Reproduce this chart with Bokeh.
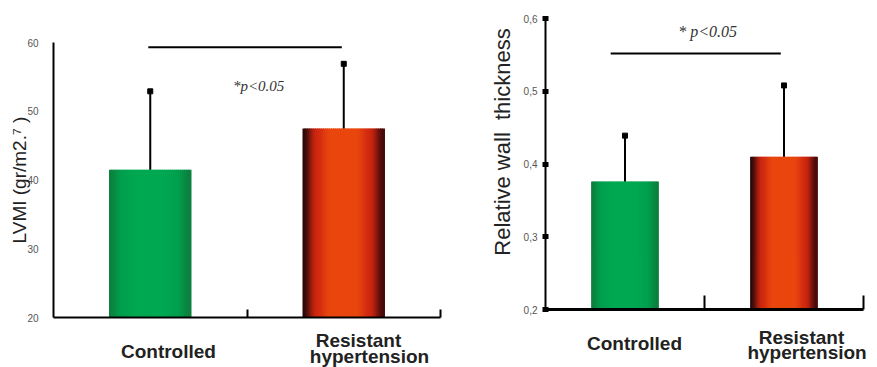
import numpy as np
from bokeh.plotting import figure
from bokeh.models import FixedTicker, Range1d, LinearAxis
from bokeh.core.properties import value
from bokeh.embed import file_html
from bokeh.resources import INLINE

# ---- data ----
categories = ["Controlled", "Resistant hypertension"]
lvmi_mean = [41.5, 47.5]
lvmi_upper = [52.9, 56.9]
lvmi_ticks = [20, 30, 40, 50, 60]
lvmi_sig = 59.3
rwt_mean = [0.376, 0.410]
rwt_upper = [0.439, 0.508]
rwt_ticks = [0.2, 0.3, 0.4, 0.5, 0.6]
rwt_tick_labels = ["0,2", "0,3", "0,4", "0,5", "0,6"]
rwt_sig = 0.552
p_label_left = "*p<0.05"
p_label_right = "* p<0.05"
lvmi_title = "LVMI (gr/m2.\u2077 )"
rwt_title = "Relative\u00a0wall\u00a0\u00a0thickness"

centers = [0.5, 1.5]
BAR_W = 0.42
NSTRIP = 40

W, H = 877, 367

GREEN = dict(center=(0, 168, 82), mid=(0, 160, 78), edge_l=(12, 128, 62), edge_r=(12, 128, 62))
RED = dict(center=(233, 70, 14), mid=(205, 38, 16), edge_l=(40, 8, 8), edge_r=(70, 10, 10))
pals = [GREEN, RED]


def rng(v0, px0, v1, px1, total):
    """Range whose values v0, v1 land at pixel px0, px1 of a frame of size total."""
    s = (px1 - px0) / (v1 - v0)
    start = v0 - px0 / s
    return Range1d(start, start + total / s)


def smooth(a, b, x):
    t = np.clip((x - a) / (b - a), 0, 1)
    return t * t * (3 - 2 * t)


def lerp(c1, c2, t):
    return tuple(c1[i] + (c2[i] - c1[i]) * t for i in range(3))


def strip_colors(pal):
    cols = []
    for k in range(NSTRIP):
        u = 2 * (k + 0.5) / NSTRIP - 1
        a = abs(u)
        c = lerp(pal["center"], pal["mid"], smooth(0.3, 0.7, a))
        c = lerp(c, pal["edge_l"] if u < 0 else pal["edge_r"], smooth(0.65, 1.0, a))
        cols.append("#%02x%02x%02x" % tuple(int(round(v)) for v in c))
    return cols


p = figure(width=W, height=H, output_backend="svg", toolbar_location=None, title=None,
           x_range=Range1d(0, W), y_range=Range1d(0, H),
           x_axis_location=None, y_axis_location=None,
           min_border=0, min_border_left=0, min_border_right=0,
           min_border_top=0, min_border_bottom=0)
p.grid.visible = False
p.outline_line_color = None

# panel coordinate systems (pixels measured from left / bottom of the frame)
p.extra_x_ranges = {"lx": rng(0, 53, 2, 440, W), "rx": rng(0, 545, 2, 863, W)}
p.extra_y_ranges = {"ly": rng(20, 50, 60, 325, H), "ry": rng(0.2, 58, 0.6, 349, H)}


def draw_bar(cx, top, bottom, pal, xr, yr):
    cols = strip_colors(pal)
    xs = [cx - BAR_W / 2 + (k + 0.5) * BAR_W / NSTRIP for k in range(NSTRIP)]
    p.vbar(x=xs, width=BAR_W / NSTRIP * 1.6, bottom=bottom, top=[top] * NSTRIP,
           fill_color=cols, line_color=None, x_range_name=xr, y_range_name=yr)


def err(cx, lo, hi, xr, yr):
    p.segment(x0=[cx], y0=[lo], x1=[cx], y1=[hi], line_color="black", line_width=2,
              x_range_name=xr, y_range_name=yr)
    p.scatter(x=[cx], y=[hi], marker="square", size=5, fill_color="black", line_color="black",
              x_range_name=xr, y_range_name=yr)


def cat_text(x, y, text, xr, yr):
    p.text(x=[x], y=[y], text=[text], text_font=value("Liberation Sans"), text_font_style="bold",
           text_font_size="19px", text_color="#222222", text_align="center",
           text_baseline="middle", x_range_name=xr, y_range_name=yr)


def x_axis(xr, yr, loc, tick_len, width):
    ax = LinearAxis(x_range_name=xr, y_range_name=yr, fixed_location=loc, bounds=(0, 2))
    ax.ticker = FixedTicker(ticks=[], minor_ticks=[1, 2])
    ax.major_label_text_font_size = "0px"
    ax.major_tick_line_color = None
    ax.minor_tick_in = tick_len
    ax.minor_tick_out = 0
    ax.minor_tick_line_width = 2
    ax.minor_tick_line_color = "black"
    ax.axis_line_width = width
    p.add_layout(ax, "below")


def y_axis(xr, yr, bounds, ticks, standoff):
    ax = LinearAxis(x_range_name=xr, y_range_name=yr, fixed_location=0, bounds=bounds)
    ax.ticker = FixedTicker(ticks=ticks)
    ax.minor_tick_line_color = None
    ax.axis_line_width = 2
    ax.major_label_text_font = "Liberation Sans"
    ax.major_label_text_font_size = "10px"
    ax.major_label_text_color = "#555555"
    ax.major_label_standoff = standoff
    p.add_layout(ax, "left")
    return ax


def title_axis(xr, yr, bounds, label, size, standoff):
    # invisible axis that only carries the axis title, centred on `bounds`
    ax = LinearAxis(x_range_name=xr, y_range_name=yr, fixed_location=0, bounds=bounds)
    ax.ticker = FixedTicker(ticks=[])
    ax.axis_line_color = None
    ax.major_tick_line_color = None
    ax.minor_tick_line_color = None
    ax.major_tick_out = 0
    ax.major_tick_in = 0
    ax.minor_tick_out = 0
    ax.minor_tick_in = 0
    ax.major_label_text_font_size = "0px"
    ax.major_label_standoff = 0
    ax.axis_label = label
    ax.axis_label_standoff = standoff
    ax.axis_label_text_font = "Liberation Sans"
    ax.axis_label_text_font_style = "normal"
    ax.axis_label_text_font_size = size
    ax.axis_label_text_color = "#222222"
    p.add_layout(ax, "left")


words = categories[1].split(" ")

# ---- left panel: LVMI ----
for i in range(2):
    draw_bar(centers[i], lvmi_mean[i], 20, pals[i], "lx", "ly")
    err(centers[i], lvmi_mean[i], lvmi_upper[i], "lx", "ly")
p.segment(x0=[0.49], y0=[lvmi_sig], x1=[1.49], y1=[lvmi_sig], line_color="black", line_width=2,
          x_range_name="lx", y_range_name="ly")
p.text(x=[1.06], y=[53.7], text=[p_label_left], text_font=value("Liberation Serif"),
       text_font_style="italic", text_font_size="15px", text_color="#333333",
       text_align="center", text_baseline="middle", x_range_name="lx", y_range_name="ly")
cat_text(centers[0] + 0.094, 15.05, categories[0], "lx", "ly")
cat_text(centers[1] + 0.076, 16.65, words[0], "lx", "ly")
cat_text(centers[1] + 0.133, 14.33, words[1], "lx", "ly")

x_axis("lx", "ly", 20, 8, 2)
ly_ax = y_axis("lx", "ly", (20, 60), lvmi_ticks, 15)
ly_ax.major_tick_line_color = None
ly_ax.major_tick_in = 0
ly_ax.major_tick_out = 0
title_axis("lx", "ly", (20, 60), lvmi_title, "19px", 24)

# ---- right panel: relative wall thickness ----
for i in range(2):
    draw_bar(centers[i], rwt_mean[i], 0.2, pals[i], "rx", "ry")
    err(centers[i], rwt_mean[i], rwt_upper[i], "rx", "ry")
p.segment(x0=[0.41], y0=[rwt_sig], x1=[1.48], y1=[rwt_sig], line_color="black", line_width=2,
          x_range_name="rx", y_range_name="ry")
p.text(x=[1.02], y=[0.582], text=[p_label_right], text_font=value("Liberation Serif"),
       text_font_style="italic", text_font_size="16px", text_color="#333333",
       text_align="center", text_baseline="middle", x_range_name="rx", y_range_name="ry")
cat_text(centers[0] + 0.06, 0.1533, categories[0], "rx", "ry")
cat_text(centers[1] + 0.11, 0.1615, words[0], "rx", "ry")
cat_text(centers[1] + 0.145, 0.1405, words[1], "rx", "ry")

x_axis("rx", "ry", 0.2, 14, 3)
ry_ax = y_axis("rx", "ry", (0.2, 0.6), rwt_ticks, 5)
ry_ax.major_label_overrides = {t: l for t, l in zip(rwt_ticks, rwt_tick_labels)}
ry_ax.major_tick_line_color = "black"
ry_ax.major_tick_line_width = 5
ry_ax.major_tick_in = 3
ry_ax.major_tick_out = 3
title_axis("rx", "ry", (0.26, 0.6004), rwt_title, "22px", 31)

open("out.html", "w").write(file_html(p, INLINE))
